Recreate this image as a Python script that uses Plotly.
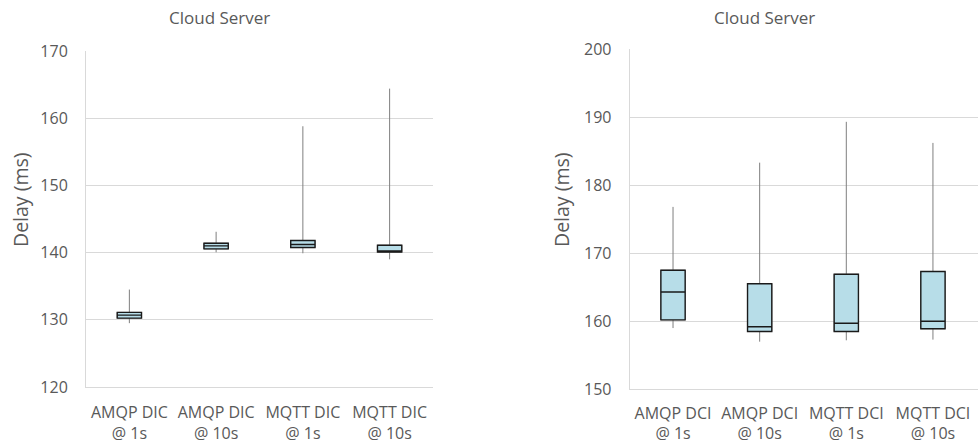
import plotly.graph_objects as go

# ---- data ----
left_categories = ["AMQP DIC<br>@ 1s", "AMQP DIC<br>@ 10s", "MQTT DIC<br>@ 1s", "MQTT DIC<br>@ 10s"]
left_low = [129.5, 140.05, 139.9, 139.0]
left_q1 = [130.25, 140.55, 140.75, 140.1]
left_median = [130.7, 141.0, 141.2, 140.2]
left_q3 = [131.1, 141.4, 141.8, 141.1]
left_high = [134.5, 143.1, 158.8, 164.4]

right_categories = ["AMQP DCI<br>@ 1s", "AMQP DCI<br>@ 10s", "MQTT DCI<br>@ 1s", "MQTT DCI<br>@ 10s"]
right_low = [159.0, 157.0, 157.2, 157.3]
right_q1 = [160.2, 158.5, 158.5, 158.9]
right_median = [164.3, 159.2, 159.7, 160.0]
right_q3 = [167.5, 165.5, 166.9, 167.3]
right_high = [176.8, 183.3, 189.3, 186.2]

left_title = "Cloud Server"
right_title = "Cloud Server"
y_title = "Delay (ms)"

FONT = "Open Sans"
TXT = "#595959"
FILL = "#b7dde8"
GRID = "#d9d9d9"

fig = go.Figure()


def add_boxes(cats, low, q1, med, q3, high, xa, ya):
    # whiskers (gray, thin)
    fig.add_trace(go.Box(
        x=cats, q1=q1, median=med, q3=q3, lowerfence=low, upperfence=high,
        xaxis=xa, yaxis=ya, fillcolor=FILL, line=dict(color="#7f7f7f", width=1),
        whiskerwidth=0, boxpoints=False, showlegend=False, hoverinfo="skip",
    ))
    # box body (dark outline)
    fig.add_trace(go.Box(
        x=cats, q1=q1, median=med, q3=q3, lowerfence=q1, upperfence=q3,
        xaxis=xa, yaxis=ya, fillcolor=FILL, line=dict(color="#1a1a1a", width=1.4),
        whiskerwidth=0, boxpoints=False, showlegend=False,
    ))


add_boxes(left_categories, left_low, left_q1, left_median, left_q3, left_high, "x", "y")
add_boxes(right_categories, right_low, right_q1, right_median, right_q3, right_high, "x2", "y2")

yfont = dict(family=FONT, size=16, color=TXT)
xfont = dict(family=FONT, size=16, color=TXT)

fig.update_layout(
    width=978, height=448,
    margin=dict(l=0, r=0, t=0, b=0),
    paper_bgcolor="white", plot_bgcolor="white",
    boxmode="overlay", boxgap=0.6,
    font=dict(family=FONT, color=TXT),
    xaxis=dict(domain=[86 / 978, 433 / 978], anchor="y", tickfont=xfont, automargin=False,
               showline=True, linecolor=GRID, linewidth=1,
               ticks="outside", ticklen=11, tickcolor="rgba(0,0,0,0)",
               showgrid=False, range=[-0.5, 3.5]),
    yaxis=dict(domain=[1 - 387 / 448, 1 - 51 / 448], anchor="x", range=[120, 170], dtick=10,
               tickfont=yfont, showgrid=True, gridcolor=GRID, gridwidth=1, automargin=False,
               showline=True, linecolor=GRID, zeroline=False,
               ticks="outside", ticklen=14, tickcolor="rgba(0,0,0,0)"),
    xaxis2=dict(domain=[629.7 / 978, 1.0], anchor="y2", tickfont=xfont, automargin=False,
                showline=True, linecolor=GRID, linewidth=1,
                ticks="outside", ticklen=9, tickcolor="rgba(0,0,0,0)",
                showgrid=False, range=[-0.5, 3.52]),
    yaxis2=dict(domain=[1 - 389.3 / 448, 1 - 49 / 448], anchor="x2", range=[150, 200], dtick=10,
                tickfont=yfont, showgrid=True, gridcolor=GRID, gridwidth=1, automargin=False,
                showline=True, linecolor=GRID, zeroline=False,
                ticks="outside", ticklen=14, tickcolor="rgba(0,0,0,0)"),
    annotations=[
        dict(text=left_title, x=219 / 978, y=1 - 18 / 448, xref="paper", yref="paper",
             showarrow=False, xanchor="center", yanchor="middle",
             font=dict(family=FONT, size=17, color=TXT)),
        dict(text=right_title, x=764 / 978, y=1 - 17 / 448, xref="paper", yref="paper",
             showarrow=False, xanchor="center", yanchor="middle",
             font=dict(family=FONT, size=17, color=TXT)),
        dict(text=y_title, x=20 / 978, y=1 - 200 / 448, xref="paper", yref="paper",
             showarrow=False, xanchor="center", yanchor="middle", textangle=-90,
             font=dict(family=FONT, size=19.5, color=TXT)),
        dict(text=y_title, x=561 / 978, y=1 - 200 / 448, xref="paper", yref="paper",
             showarrow=False, xanchor="center", yanchor="middle", textangle=-90,
             font=dict(family=FONT, size=19.5, color=TXT)),
    ],
)

fig.write_html("out.html")
